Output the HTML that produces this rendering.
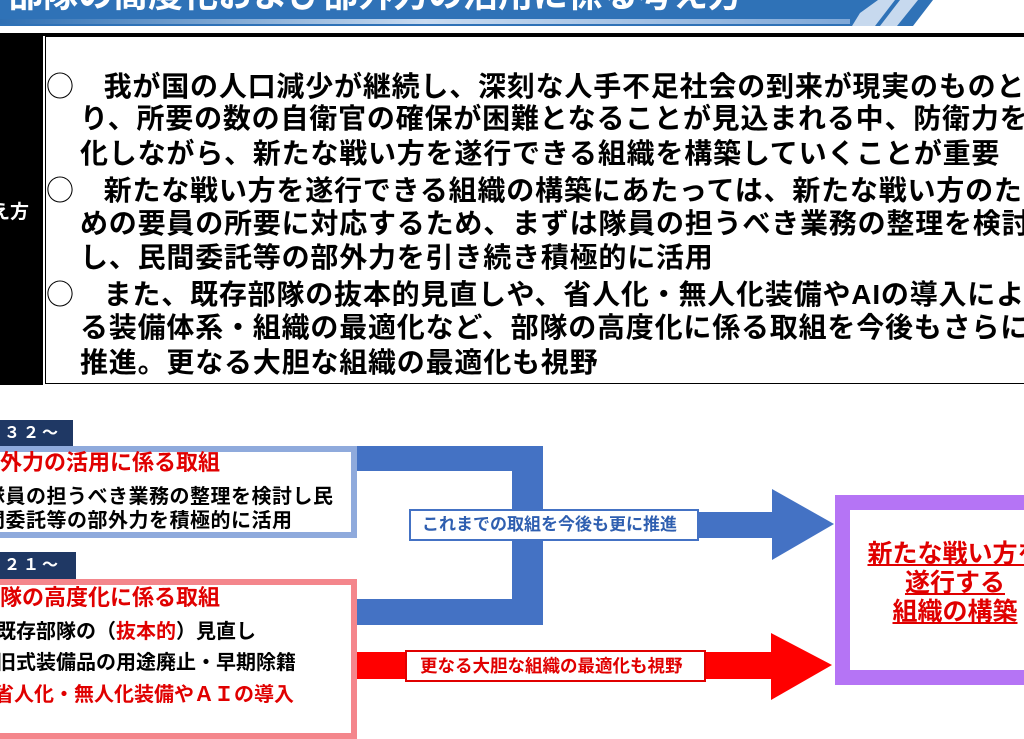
<!DOCTYPE html>
<html><head><meta charset="utf-8"><style>
*{margin:0;padding:0;box-sizing:border-box}
body{width:1024px;height:709px;overflow:hidden;background:#fff;position:relative;font-family:"Liberation Sans","Noto Sans CJK JP",sans-serif;font-weight:bold}
.a{position:absolute;white-space:nowrap}
.t{font-size:28px;line-height:34.75px;color:#000;letter-spacing:0.8px}
.c{font-family:"Noto Sans CJK JP",sans-serif;font-weight:normal}
</style></head><body>
<svg class="a" style="left:0;top:0" width="1024" height="40">
<defs><linearGradient id="g" x1="0" x2="1"><stop offset="0" stop-color="#2e6fb3"/><stop offset="0.5" stop-color="#c9dbf0"/><stop offset="1" stop-color="#7fa8d8"/></linearGradient></defs>
<polygon points="0,0 933,0 913,26 0,26" fill="#2f72b7"/>
<rect x="0" y="19" width="850" height="5" fill="url(#g)"/>
<polygon points="852,26 860,13 878,0 895,0 875,26" fill="#c7d9ee"/>
<polygon points="880,26 900,0 918,0 897,26" fill="#c7d9ee"/>
<rect x="0" y="24" width="850" height="2" fill="#2f72b7"/>
</svg>
<div class="a" style="left:8px;top:-22px;font-size:35px;line-height:35px;color:#fff">部隊の高度化および部外力の活用に係る考え方</div>
<div class="a" style="left:40px;top:33px;width:984px;height:3px;background:#000"></div>
<div class="a" style="left:0;top:33px;width:43px;height:352px;background:#000"></div>
<div class="a" style="left:45px;top:36px;width:990px;height:348px;border:1.5px solid #000"></div>
<div class="a" style="left:-28px;top:202px;font-size:19px;color:#fff;line-height:22px">考え方</div>
<div class="a t" style="left:46px;top:67.6px"><span class="c">○</span>　我が国の人口減少が継続し、深刻な人手不足社会の到来が現実のものとな</div>
<div class="a t" style="left:80px;top:102.35px">り、所要の数の自衛官の確保が困難となることが見込まれる中、防衛力を強</div>
<div class="a t" style="left:80px;top:137.1px">化しながら、新たな戦い方を遂行できる組織を構築していくことが重要</div>
<div class="a t" style="left:46px;top:171.85px"><span class="c">○</span>　新たな戦い方を遂行できる組織の構築にあたっては、新たな戦い方のた</div>
<div class="a t" style="left:80px;top:206.6px">めの要員の所要に対応するため、まずは隊員の担うべき業務の整理を検討</div>
<div class="a t" style="left:80px;top:241.35px">し、民間委託等の部外力を引き続き積極的に活用</div>
<div class="a t" style="left:46px;top:276.1px"><span class="c">○</span>　また、既存部隊の抜本的見直しや、省人化・無人化装備やAIの導入によ</div>
<div class="a t" style="left:80px;top:310.85px">る装備体系・組織の最適化など、部隊の高度化に係る取組を今後もさらに</div>
<div class="a t" style="left:80px;top:345.6px">推進。更なる大胆な組織の最適化も視野</div>

<svg class="a" style="left:0;top:0" width="1024" height="709">
<rect x="350" y="446" width="193" height="25" fill="#4472c4"/>
<rect x="512" y="446" width="31" height="179" fill="#4472c4"/>
<rect x="350" y="599" width="193" height="26" fill="#4472c4"/>
<rect x="540" y="512" width="233" height="26" fill="#4472c4"/>
<polygon points="772,489 834,524 772,560" fill="#4472c4"/>
<rect x="355" y="652" width="418" height="27" fill="#ff0000"/>
<polygon points="771,633 832,665 771,700" fill="#ff0000"/>
<rect x="842.5" y="502.5" width="200" height="175" fill="#fff" stroke="#b574f5" stroke-width="15"/>
</svg>
<div class="a" style="left:409px;top:509px;width:290px;height:32px;border:2px solid #4472c4;background:#fff;color:#2f5fb0;font-size:17px;line-height:28px;padding-left:11px">これまでの取組を今後も更に推進</div>
<div class="a" style="left:405px;top:650px;width:301px;height:32px;border:2px solid #e00000;background:#fff;color:#e00000;font-size:17.5px;line-height:28px;padding-left:13px">更なる大胆な組織の最適化も視野</div>
<div class="a" style="left:855px;top:540px;width:200px;text-align:center;color:#e00000;font-size:25px;line-height:29px;text-decoration:underline">新たな戦い方を<br>遂行する<br>組織の構築</div>

<div class="a" style="left:0;top:420px;width:73px;height:28px;background:#1f3864;color:#fff;font-size:16px;line-height:28px;padding-left:4px;letter-spacing:3px">３２～</div>
<div class="a" style="left:-10px;top:446px;width:367px;height:92px;border:6px solid #8faadc;background:#fff"></div>
<div class="a" style="left:-22px;top:449px;font-size:22px;line-height:28px;color:#e00000">部外力の活用に係る取組</div>
<div class="a" style="left:-15px;top:485px;font-size:20px;line-height:24px;color:#000;letter-spacing:0.5px">隊員の担うべき業務の整理を検討し民</div>
<div class="a" style="left:-15px;top:509px;font-size:20px;line-height:24px;color:#000;letter-spacing:0.5px">間委託等の部外力を積極的に活用</div>
<div class="a" style="left:0;top:552px;width:76px;height:27px;background:#1f3864;color:#fff;font-size:16px;line-height:27px;padding-left:4px;letter-spacing:3px">２１～</div>
<div class="a" style="left:-10px;top:579px;width:367px;height:160px;border:6px solid #f4868c;background:#fff"></div>
<div class="a" style="left:-22px;top:584px;font-size:22px;line-height:28px;color:#e00000">部隊の高度化に係る取組</div>
<div class="a" style="left:-4px;top:620px;font-size:20px;line-height:24px;color:#000">既存部隊の（<span style="color:#e00000">抜本的</span>）見直し</div>
<div class="a" style="left:-4px;top:651px;font-size:20px;line-height:24px;color:#000">旧式装備品の用途廃止・早期除籍</div>
<div class="a" style="left:-6px;top:683px;font-size:20px;line-height:24px;color:#e00000">省人化・無人化装備やＡＩの導入</div>
</body></html>
